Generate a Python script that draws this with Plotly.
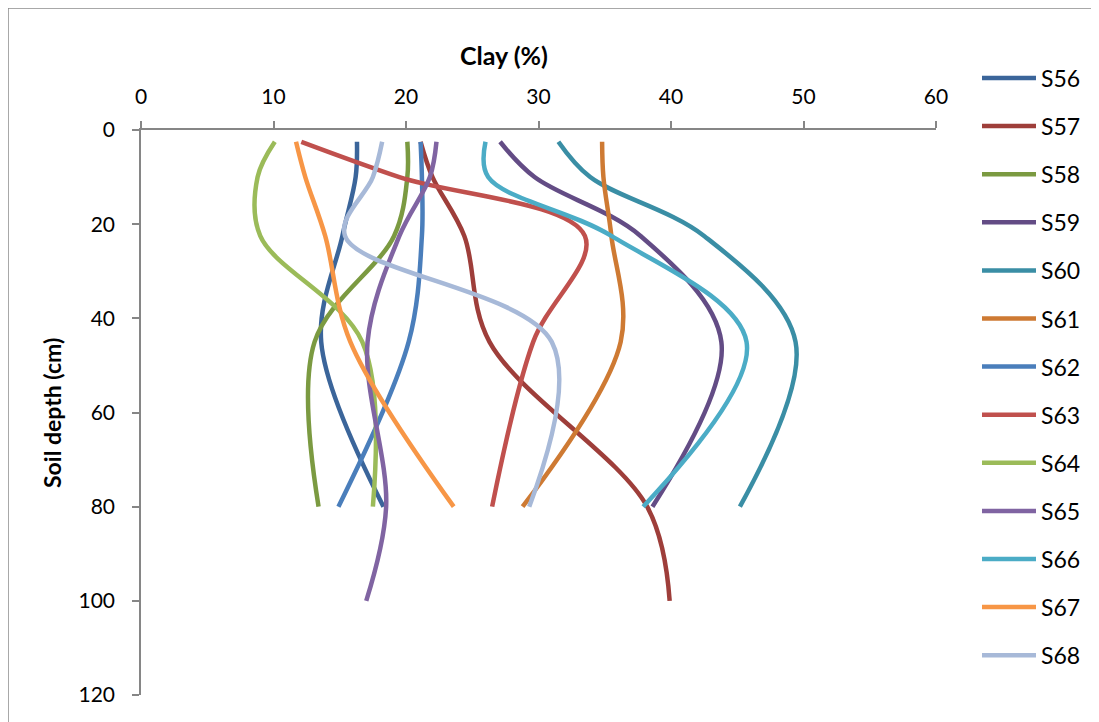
import plotly.graph_objects as go

# Depths (cm) at which clay content was read
depth = [2.5, 10, 22.5, 45, 80]
depth_deep = [2.5, 10, 22.5, 45, 80, 100]

# Clay content (%) per profile
S56 = [16.3, 16.2, 15.2, 13.6, 18.3]
S57 = [21.1, 22.0, 24.4, 26.3, 38.2, 39.9]
S58 = [20.1, 20.1, 19.1, 13.1, 13.4]
S59 = [27.1, 29.7, 37.7, 43.8, 38.6]
S60 = [31.5, 33.9, 42.5, 49.4, 45.2]
S61 = [34.8, 34.9, 35.5, 36.2, 28.8]
S62 = [21.1, 21.2, 21.2, 20.2, 14.9]
S63 = [12.1, 19.5, 33.5, 29.6, 26.5]
S64 = [10.1, 8.8, 9.0, 16.7, 17.5]
S65 = [22.3, 21.8, 19.5, 17.1, 18.5, 17.0]
S66 = [26.0, 26.2, 35.5, 45.7, 37.9]
S67 = [11.7, 12.4, 13.9, 15.8, 23.6]
S68 = [18.2, 17.5, 15.4, 31.0, 29.3]

names = ["S56", "S57", "S58", "S59", "S60", "S61", "S62",
         "S63", "S64", "S65", "S66", "S67", "S68"]
series = [S56, S57, S58, S59, S60, S61, S62, S63, S64, S65, S66, S67, S68]
depths = [depth, depth_deep, depth, depth, depth, depth, depth,
          depth, depth, depth_deep, depth, depth, depth]
colors = ["#3B659A", "#9E3E3A", "#7B9A41", "#634C85", "#3A8EA5", "#CE7A33",
          "#4A7EBB", "#C0504D", "#9BBB59", "#8064A2", "#4BACC6", "#F79646",
          "#A7B9D8"]

FONT = "Lato"
GREY = "#868686"

fig = go.Figure()
for n, v, d, c in zip(names, series, depths, colors):
    fig.add_trace(go.Scatter(
        x=v, y=d, name=n, mode="lines", showlegend=False,
        line=dict(color=c, width=4.5, shape="spline", smoothing=1.0),
    ))

# The page body adds an 8 px margin; the figure fills the rest of the window.
PAGE_OFF = 8
W, H = 1099 - PAGE_OFF, 722 - PAGE_OFF
L, R, T, B = 141 - PAGE_OFF, 163, 130 - PAGE_OFF, 27
pw, ph = W - L - R, H - T - B


def px(xp):  # page x -> paper x
    return (xp - PAGE_OFF - L) / pw


def py(yp):  # page y -> paper y
    return (H - B - (yp - PAGE_OFF)) / ph


# Legend drawn as line samples + labels (one row per series)
LEG_TOP, LEG_STEP = 78, 48.1
legend_shapes, legend_labels = [], []
for i, (n, c) in enumerate(zip(names, colors)):
    yy = py(LEG_TOP + i * LEG_STEP)
    legend_shapes.append(dict(
        type="line", xref="paper", yref="paper",
        x0=px(982), x1=px(1036), y0=yy, y1=yy,
        line=dict(color=c, width=4.5)))
    legend_labels.append(dict(
        text=n, x=px(1039), y=yy, xref="paper", yref="paper",
        showarrow=False, xanchor="left", yanchor="middle",
        font=dict(family=FONT, size=23, color="black")))

fig.update_layout(
    width=W, height=H,
    margin=dict(l=L, r=R, t=T, b=B, autoexpand=False),
    paper_bgcolor="white", plot_bgcolor="white",
    font=dict(family=FONT, size=21, color="black"),
    showlegend=False,
    xaxis=dict(
        side="top", range=[0, 60], tickvals=[0, 10, 20, 30, 40, 50, 60],
        ticks="outside", ticklen=7, tickcolor=GREY, tickwidth=1.5,
        showline=True, linecolor=GREY, linewidth=1.5,
        showgrid=False, zeroline=False, ticklabelstandoff=9,
        tickfont=dict(family=FONT, size=21, color="black"),
    ),
    yaxis=dict(
        range=[120, 0], tickvals=[0, 20, 40, 60, 80, 100, 120],
        ticks="outside", ticklen=7, tickcolor=GREY, tickwidth=1.5,
        showline=True, linecolor=GREY, linewidth=1.5,
        showgrid=False, zeroline=False, ticklabelstandoff=13,
        tickfont=dict(family=FONT, size=21, color="black"),
    ),
    annotations=[
        dict(text="<b>Clay (%)</b>", x=px(504), y=py(55), xref="paper", yref="paper",
             showarrow=False, xanchor="center", yanchor="middle",
             font=dict(family=FONT, size=25, color="black")),
        dict(text="<b>Soil depth (cm)</b>", x=px(52), y=py(413), xref="paper", yref="paper",
             showarrow=False, xanchor="center", yanchor="middle", textangle=-90,
             font=dict(family=FONT, size=23, color="black")),
    ] + legend_labels,
    shapes=[
        dict(type="rect", xref="paper", yref="paper",
             x0=px(8), y0=py(8), x1=px(1120), y1=py(740),
             line=dict(color="#8C8C8C", width=1.5), fillcolor="rgba(0,0,0,0)",
             layer="below"),
    ] + legend_shapes,
)

fig.write_html("out.html")
